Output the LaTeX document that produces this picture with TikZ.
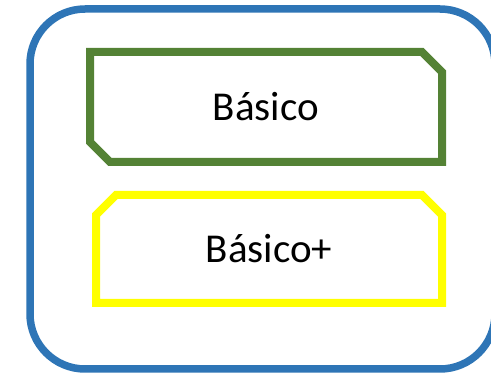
\documentclass[tikz,border=0pt]{standalone}
\usepackage{fontspec}
\setmainfont{Carlito}
\usepackage{tikz}
\usepackage{xcolor}
\usetikzlibrary{shapes.misc}
\definecolor{frameblue}{HTML}{2E75B6}
\definecolor{levelgreen}{HTML}{548235}
\definecolor{levelyellow}{HTML}{FFFF00}
\tikzset{
    outer-box/.style = {draw=frameblue, line width=7.5pt, rounded corners=55pt},
    level-box/.style = {chamfered rectangle, chamfered rectangle xsep=10pt, chamfered rectangle ysep=10pt, line width=8pt, fill=white, inner sep=0pt, minimum width=352pt, minimum height=110pt, font=\fontsize{41}{49}\selectfont},
}

\begin{document}
\begin{tikzpicture}[x=1pt, y=-1pt]
\useasboundingbox (0,0) rectangle (491,374);
\draw[outer-box] (30,9) rectangle (495,369);
\node[level-box, draw=levelgreen, chamfered rectangle corners={north east, south west}] (basico) at (266,107) {Básico};
\node[level-box, draw=levelyellow, chamfered rectangle corners={north west, north east}, minimum width=346pt, minimum height=108pt] (basicoplus) at (269,249) {Básico+};
\end{tikzpicture}
\end{document}
